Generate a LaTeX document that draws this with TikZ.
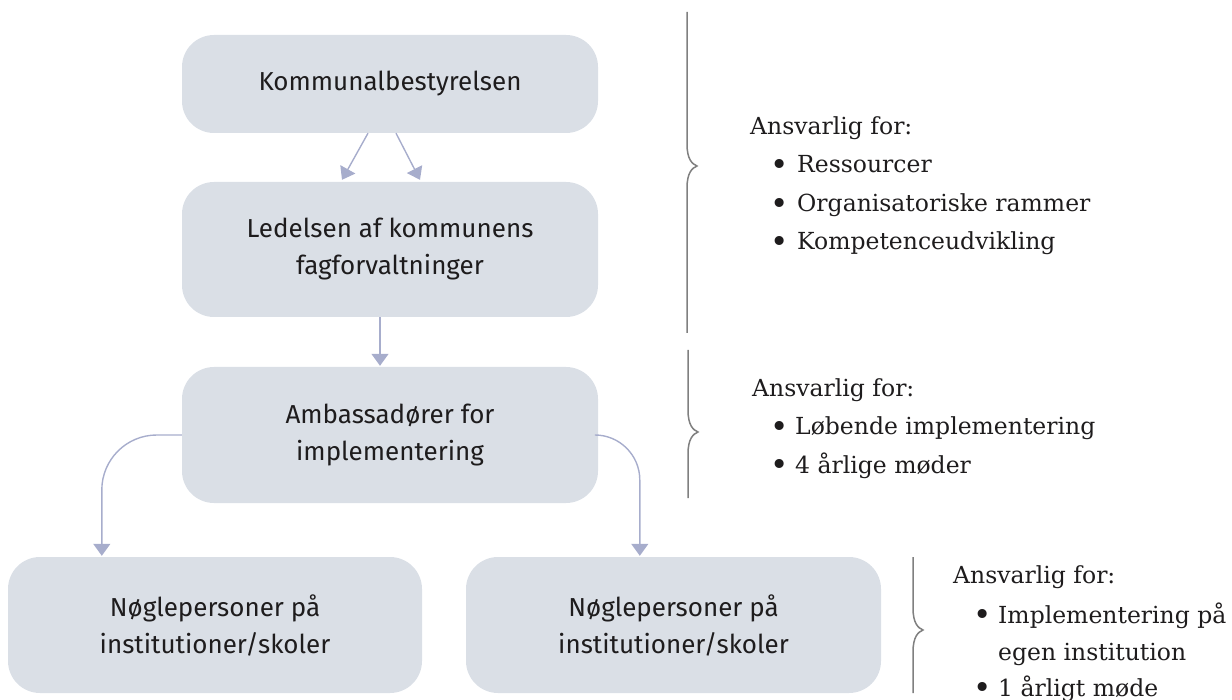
\documentclass[tikz,border=0pt]{standalone}
\usepackage{fontspec}
\setmainfont{DejaVu Serif}
\newfontfamily\boxfont{Fira Sans}
\usetikzlibrary{arrows.meta,calc}
\definecolor{boxfill}{RGB}{218,223,230}
\definecolor{arrowc}{RGB}{167,173,204}
\definecolor{bracec}{RGB}{128,128,128}
\definecolor{txt}{RGB}{30,28,29}
\newcommand\bul[1]{\makebox[#1][l]{\raisebox{-2.2pt}{\fontsize{31}{31}\selectfont•}}}
\begin{document}
\begin{tikzpicture}[x=1pt,y=-1pt,
  box/.style={fill=boxfill, rounded corners=32pt, align=center, text=txt,
    font=\boxfont\fontsize{26}{37}\selectfont, inner sep=0pt},
  conn/.style={draw=arrowc, line width=1.4pt, -{Triangle[width=17pt,length=12pt]}},
  brc/.style={draw=bracec, line width=1.5pt},
  lbl/.style={anchor=base west, inner sep=0pt, text=txt, font=\fontsize{23.5}{38}\selectfont},
]
\useasboundingbox (0,0) rectangle (1232,700);

% boxes
\node[box, minimum width=416pt, minimum height=98pt] (k) at (390,84) {Kommunalbestyrelsen};
\node[box, minimum width=416pt, minimum height=135pt] (l) at (390,249.5) {Ledelsen af kommunens\\fagforvaltninger};
\node[box, minimum width=416pt, minimum height=136pt] (a) at (390,435) {Ambassadører for\\implementering};
\node[box, minimum width=414pt, minimum height=136pt] (n1) at (215,625) {Nøglepersoner på\\institutioner/skoler};
\node[box, minimum width=415pt, minimum height=136pt] (n2) at (673.5,625) {Nøglepersoner på\\institutioner/skoler};

% connectors
\draw[conn] ($(k.south)+(-22,0)$) -- ($(l.north)+(-48,-2)$);
\draw[conn] ($(k.south)+(6,0)$) -- ($(l.north)+(30,-2)$);
\draw[conn] ($(l.south)+(-10,0)$) -- ($(a.north)+(-10,-1)$);
\draw[conn, rounded corners=55pt] (a.west) -| ($(n1.north west)+(94,-1)$);
\draw[conn, rounded corners=45pt] (a.east) -| ($(n2.north west)+(174,-1)$);

% braces
\draw[brc] (687,12) -- (687,144) .. controls (687,159) and (692,164) .. (697,166)
  .. controls (692,168) and (687,173) .. (687,188) -- (687,333);
\draw[brc] (688,350) -- (688,410) .. controls (688,425) and (693,430) .. (698,432)
  .. controls (693,434) and (688,439) .. (688,454) -- (688,498);
\draw[brc] (913,557) -- (913,608) .. controls (913,623) and (918,628) .. (923,630)
  .. controls (918,632) and (913,637) .. (913,652) -- (913,693);

% responsibilities
\node[lbl] (h1) at (750,135) {Ansvarlig for:};
\node[lbl] (b11) at (770,173) {\bul{27pt}Ressourcer};
\node[lbl] (b12) at (770,212) {\bul{27pt}Organisatoriske rammer};
\node[lbl] (b13) at (770,250) {\bul{27pt}Kompetenceudvikling};

\node[lbl] (h2) at (752,397) {Ansvarlig for:};
\node[lbl] (b21) at (770,435) {\bul{25pt}Løbende implementering};
\node[lbl] (b22) at (770,473) {\bul{25pt}4 årlige møder};

\node[lbl] (h3) at (953,583) {Ansvarlig for:};
\node[lbl] (b31) at (973,623) {\bul{25pt}Implementering på};
\node[lbl] (b32) at (998,660) {egen institution};
\node[lbl] (b33) at (973,696) {\bul{25pt}1 årligt møde};
\end{tikzpicture}
\end{document}
